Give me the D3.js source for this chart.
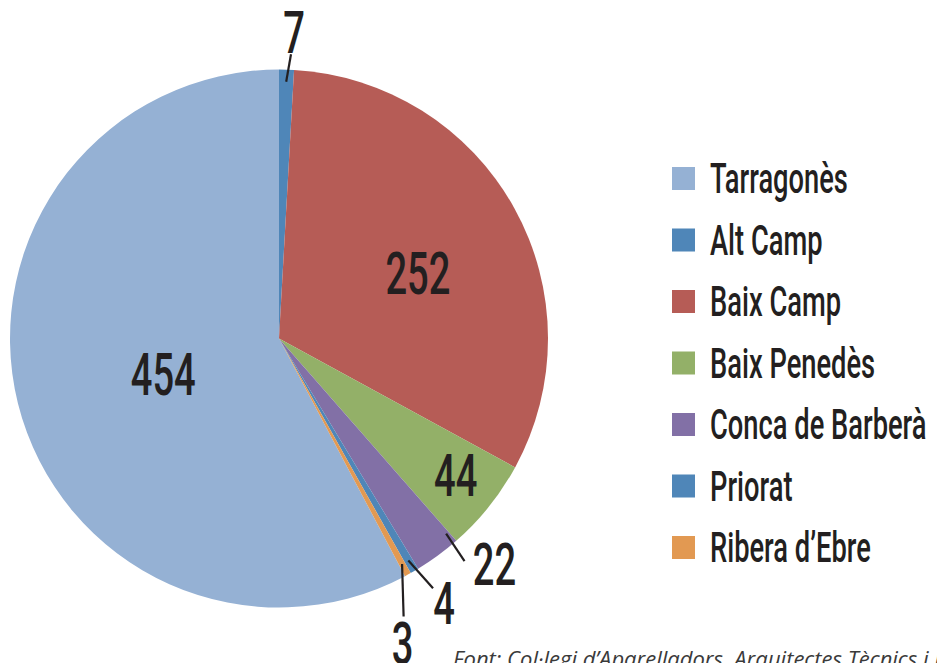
<!DOCTYPE html>
<html>
<head>
<meta charset="utf-8">
<title>Pie</title>
<style>
  html, body { margin: 0; padding: 0; background: #fff; }
  svg { display: block; }
  .num { font-family: Roboto, "Noto Sans", sans-serif; font-weight: 500; fill: #231f20; }
  .leg { font-family: Roboto, "Noto Sans", sans-serif; font-weight: 500; fill: #231f20; }
  .src { font-family: "Open Sans", sans-serif; font-style: italic; fill: #3a3a3a; }
</style>
</head>
<body>
<svg width="937" height="663"></svg>
<script src="https://cdn.jsdelivr.net/npm/d3@7"></script>
<script>
  var categories = ["Tarragonès", "Alt Camp", "Baix Camp", "Baix Penedès", "Conca de Barberà", "Priorat", "Ribera d\u2019Ebre"];
  var values = [454, 7, 252, 44, 22, 4, 3];
  var colors = ["#95b1d4", "#4f86b8", "#b65c56", "#93b068", "#8270a6", "#4f86b8", "#e29952"];
  var source = "Font: Col·legi d\u2019Aparelladors, Arquitectes Tècnics i Enginyers d\u2019Edificació de Tarragona";

  // label layout: radius factor, angle nudge (deg), leader start nudge (deg), leader end offset from label
  var labelLayout = [
    {r: 0.45, da: -3},
    {r: 1.14, da: 1.2, sa: 0, ex: -3, ey: 22},
    {r: 0.57, da: 4},
    {r: 0.83, da: -1},
    {r: 1.16, da: -7.5, sa: -4.4, ex: -30, ey: -3},
    {r: 1.16, da: -1.7, sa: 0, ex: -11, ey: -15},
    {r: 1.22, da: 6.5, sa: 0, ex: 1, ey: -26}
  ];

  var svg = d3.select("svg"),
      cx = 279, cy = 338.5, R = 269;

  var total = d3.sum(values);
  var start = -2 * Math.PI * values[0] / total;

  var pie = d3.pie().sort(null).value(function(d) { return d; })
      .startAngle(start).endAngle(start + 2 * Math.PI);

  var arcs = pie(values);
  var arc = d3.arc().innerRadius(0).outerRadius(R);

  var g = svg.append("g").attr("transform", "translate(" + cx + "," + cy + ")");

  g.selectAll("path.slice")
    .data(arcs)
    .enter().append("path")
      .attr("class", "slice")
      .attr("d", arc)
      .attr("fill", function(d, i) { return colors[i]; });

  function polar(a, r) { return [Math.sin(a) * r, -Math.cos(a) * r]; }
  var deg = Math.PI / 180;

  // horizontal squeeze so the font looks condensed like the original
  var probe = svg.append("text").attr("class", "num").style("font-size", "59px").text("454");
  var numScale = 65 / probe.node().getComputedTextLength();
  probe.remove();

  arcs.forEach(function(d, i) {
    var L = labelLayout[i];
    var mid = (d.startAngle + d.endAngle) / 2;
    var p = polar(mid + L.da * deg, R * L.r);
    if (L.ex !== undefined) {
      var p0 = polar(mid + L.sa * deg, R * 0.955);
      g.append("line")
        .attr("x1", p0[0]).attr("y1", p0[1])
        .attr("x2", p[0] + L.ex).attr("y2", p[1] + L.ey)
        .attr("stroke", "#231f20").attr("stroke-width", 2.2);
    }
    g.append("text")
      .attr("class", "num")
      .attr("text-anchor", "middle")
      .attr("transform", "translate(" + p[0] + "," + (p[1] + 21) + ") scale(" + numScale + ",1)")
      .style("font-size", "59px")
      .text(values[i]);
  });

  var leg = svg.append("g").attr("transform", "translate(672,167)");
  var row = leg.selectAll("g")
    .data(categories)
    .enter().append("g")
      .attr("transform", function(d, i) { return "translate(0," + (i * 61.5) + ")"; });

  row.append("rect")
    .attr("width", 23).attr("height", 23)
    .attr("fill", function(d, i) { return colors[i]; });

  var probe2 = svg.append("text").attr("class", "leg").style("font-size", "42px").text(categories[0]);
  var legScale = 138 / probe2.node().getComputedTextLength();
  probe2.remove();

  row.append("text")
    .attr("class", "leg")
    .attr("transform", "translate(38,26) scale(" + legScale + ",1)")
    .style("font-size", "42px")
    .text(function(d) { return d; });

  svg.append("text")
    .attr("class", "src")
    .attr("x", 453).attr("y", 667)
    .style("font-size", "22px")
    .text(source);
</script>
</body>
</html>
